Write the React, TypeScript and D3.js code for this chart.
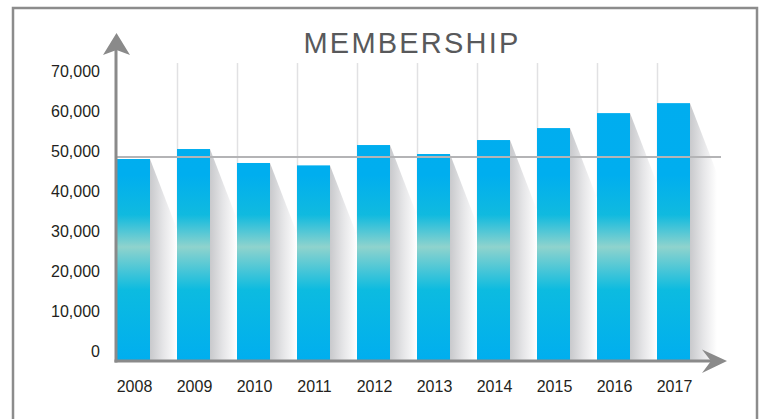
import React from "react";
import * as d3 from "d3";

const years = ["2008", "2009", "2010", "2011", "2012", "2013", "2014", "2015", "2016", "2017"];
const members = [49500, 52000, 48500, 47900, 53000, 50750, 54250, 57250, 61000, 63500];
const yTicks = [0, 10000, 20000, 30000, 40000, 50000, 60000, 70000];
const referenceValue = 50000;
const title = "MEMBERSHIP";

const W = 759;
const H = 419;
const axisX = 116;
const axisY = 361;

export default function App() {
  const x = d3.scaleBand<string>().domain(years).range([117, 690]).paddingInner(0.45).paddingOuter(0).align(0);
  const y = d3.scaleLinear().domain([0, 70000]).range([356.5, 77.2]);
  const bw = x.bandwidth();
  const gap = x.step() - bw;
  const fmt = d3.format(",");
  const slope = 2.6;

  return (
    <svg width={W} height={H} style={{ position: "absolute", left: 0, top: 0, background: "#fff" }} fontFamily="'Liberation Sans', Arial, Helvetica, sans-serif">
      <defs>
        <linearGradient id="barGrad" gradientUnits="userSpaceOnUse" x1="0" y1="100" x2="0" y2="361">
          <stop offset="0" stopColor="#00adef" />
          <stop offset="0.287" stopColor="#00aeef" />
          <stop offset="0.44" stopColor="#10badf" />
          <stop offset="0.563" stopColor="#8fd3cd" />
          <stop offset="0.728" stopColor="#0cbbe0" />
          <stop offset="1" stopColor="#00aeef" />
        </linearGradient>
        <linearGradient id="shadowGrad" x1="0" y1="0" x2="1" y2="0">
          <stop offset="0" stopColor="#c8c9cc" />
          <stop offset="0.5" stopColor="#e6e6e8" />
          <stop offset="1" stopColor="#ffffff" />
        </linearGradient>
      </defs>
      {/* frame */}
      <rect x={13} y={8} width={744} height={430} fill="#fff" stroke="#8c8c8c" strokeWidth={2.5} />

      {/* title */}
      <text x={412} y={53} textAnchor="middle" fontSize={29} letterSpacing={2.2} fill="#58595b">{title}</text>

      {/* vertical gridlines */}
      {years.slice(1).map((yr) => (
        <line key={"g" + yr} x1={x(yr)! + 0.5} x2={x(yr)! + 0.5} y1={63} y2={axisY} stroke="#e1e1e3" strokeWidth={1.5} />
      ))}

      {/* shadows */}
      {years.map((yr, i) => {
        const r = x(yr)! + bw;
        const t = y(members[i]);
        const path = `M${r},${t} L${r + gap},${t + gap * slope} L${r + gap},${axisY} L${r},${axisY} Z`;
        return <path key={"s" + yr} d={path} fill="url(#shadowGrad)" />;
      })}

      {/* bars */}
      {years.map((yr, i) => (
        <rect key={"b" + yr} x={x(yr)} y={y(members[i])} width={bw} height={axisY - y(members[i])} fill="url(#barGrad)" />
      ))}

      {/* reference line */}
      <line x1={axisX} x2={721} y1={y(referenceValue)} y2={y(referenceValue)} stroke="#b4b4b6" strokeWidth={2} />

      {/* y labels */}
      {yTicks.map((t) => (
        <text key={"yt" + t} x={100} y={y(t)} textAnchor="end" fontSize={16} fill="#231f20">{fmt(t)}</text>
      ))}

      {/* x labels */}
      {years.map((yr) => (
        <text key={"xt" + yr} x={x(yr)! + bw / 2 + 1} y={392} textAnchor="middle" fontSize={16} fill="#231f20">{yr}</text>
      ))}

      {/* axes */}
      <line x1={axisX} x2={axisX} y1={axisY + 1.5} y2={48} stroke="#8a8a8a" strokeWidth={3} />
      <path d={`M${axisX + 0.5},33 L${axisX + 14},55 L${axisX + 0.5},50 L${axisX - 13},55 Z`} fill="#8a8a8a" />
      <line x1={axisX - 1.5} x2={714} y1={axisY} y2={axisY} stroke="#8a8a8a" strokeWidth={3} />
      <path d={`M727,${axisY} L702,${axisY - 11.5} L711,${axisY} L702,${axisY + 12} Z`} fill="#8a8a8a" />
    </svg>
  );
}
